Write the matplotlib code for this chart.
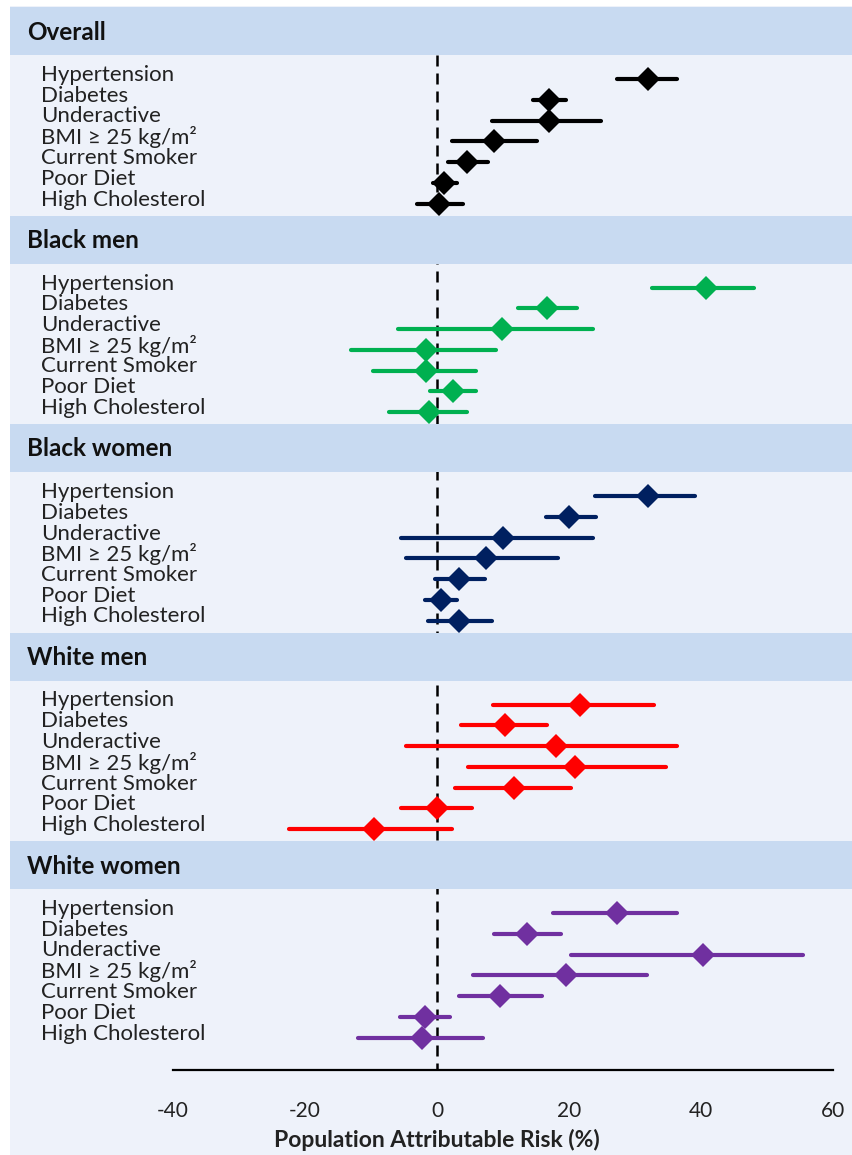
import matplotlib.pyplot as plt
from matplotlib.patches import Rectangle
import matplotlib.transforms as mtransforms

plt.rcParams['font.family'] = ['Lato', 'DejaVu Sans']
plt.rcParams['axes.unicode_minus'] = False

# Risk factors, top to bottom within each group
factors = ['Hypertension', 'Diabetes', 'Underactive', 'BMI ≥ 25 kg/m²',
           'Current Smoker', 'Poor Diet', 'High Cholesterol']
groups = ['Overall', 'Black men', 'Black women', 'White men', 'White women']
colors = ['#000000', '#00b050', '#002060', '#ff0000', '#7030a0']

# Population attributable risk (%) with 95% CI
par_overall = [31.9, 17.0, 16.9, 8.6, 4.5, 1.1, 0.3]
lo_overall = [27.2, 14.5, 8.3, 2.3, 1.7, -0.6, -3.1]
hi_overall = [36.3, 19.5, 24.8, 15.2, 7.8, 3.0, 3.9]

par_black_men = [40.8, 16.7, 9.8, -1.7, -1.7, 2.4, -1.2]
lo_black_men = [32.5, 12.2, -5.9, -13.1, -9.7, -1.1, -7.3]
hi_black_men = [48.1, 21.2, 23.6, 8.9, 5.9, 5.9, 4.6]

par_black_women = [32.0, 20.0, 10.0, 7.4, 3.3, 0.6, 3.3]
lo_black_women = [23.9, 16.5, -5.5, -4.7, -0.3, -1.8, -1.3]
hi_black_women = [39.1, 24.1, 23.7, 18.4, 7.3, 3.0, 8.3]

par_white_men = [21.6, 10.3, 18.0, 20.9, 11.7, 0.0, -9.6]
lo_white_men = [8.5, 3.7, -4.7, 4.7, 2.8, -5.4, -22.4]
hi_white_men = [32.9, 16.6, 36.3, 34.7, 20.3, 5.3, 2.2]

par_white_women = [27.3, 13.7, 40.3, 19.5, 9.6, -1.8, -2.2]
lo_white_women = [17.5, 8.6, 20.3, 5.5, 3.3, -5.6, -11.9]
hi_white_women = [36.3, 18.8, 55.5, 31.8, 15.9, 2.0, 7.0]

par = [par_overall, par_black_men, par_black_women, par_white_men, par_white_women]
lo = [lo_overall, lo_black_men, lo_black_women, lo_white_men, lo_white_women]
hi = [hi_overall, hi_black_men, hi_black_women, hi_white_men, hi_white_women]

W, H = 852, 1155
fig = plt.figure(figsize=(W / 100, H / 100), dpi=100)
fig.patch.set_facecolor('white')

# page background
fig.patches.append(Rectangle((10 / W, 0), 1 - 10 / W, 1 - 6 / H,
                             transform=fig.transFigure, facecolor='#eef2fa',
                             edgecolor='none', zorder=-1))

axis_y = 1070
ax = fig.add_axes([173 / W, (H - axis_y) / H, 660 / W, axis_y / H])
ax.set_facecolor('none')
ax.set_xlim(-40, 60)
ax.set_ylim(axis_y, 0)
for s in ['top', 'right', 'left']:
    ax.spines[s].set_visible(False)
ax.spines['bottom'].set_linewidth(1.6)
ax.set_yticks([])
ax.set_xticks([-40, -20, 0, 20, 40, 60])
ax.tick_params(axis='x', length=0, pad=22, labelsize=15, labelcolor='#222222')
ax.set_xlabel('Population Attributable Risk (%)', fontsize=16.5,
              fontweight='bold', color='#222222')
ax.xaxis.set_label_coords(0.4, -0.055)

panel_pitch = 208.5
band_h = 48
row_pitch = 20.75

# reference line at zero, running from under the first header to the axis
ax.plot([0, 0], [7 + band_h, axis_y], color='black', linestyle=(0, (4.4, 2.8)),
        linewidth=1.8, zorder=1)

trans = mtransforms.blended_transform_factory(fig.transFigure, ax.transData)

for g, name in enumerate(groups):
    top = 7 + g * panel_pitch
    ax.add_patch(Rectangle((10 / W, top), 1 - 10 / W, band_h, transform=trans,
                           facecolor='#c8daf1', edgecolor='none', zorder=3,
                           clip_on=False))
    ax.text(27 / W, top + band_h / 2 + 1, name, transform=trans, fontsize=17.5,
            fontweight='bold', color='#111111', va='center', ha='left', zorder=4)
    for i, f in enumerate(factors):
        y = top + 72 + i * row_pitch
        ax.text(41 / W, y - 4, f, transform=trans, fontsize=16, color='#222222',
                va='center', ha='left')
        ax.plot([lo[g][i], hi[g][i]], [y, y], color=colors[g], linewidth=3,
                solid_capstyle='round', zorder=5)
        ax.plot(par[g][i], y, marker='D', markersize=12, color=colors[g],
                markeredgewidth=0, zorder=6)

fig.savefig('out.png', dpi=100, facecolor=fig.get_facecolor())
